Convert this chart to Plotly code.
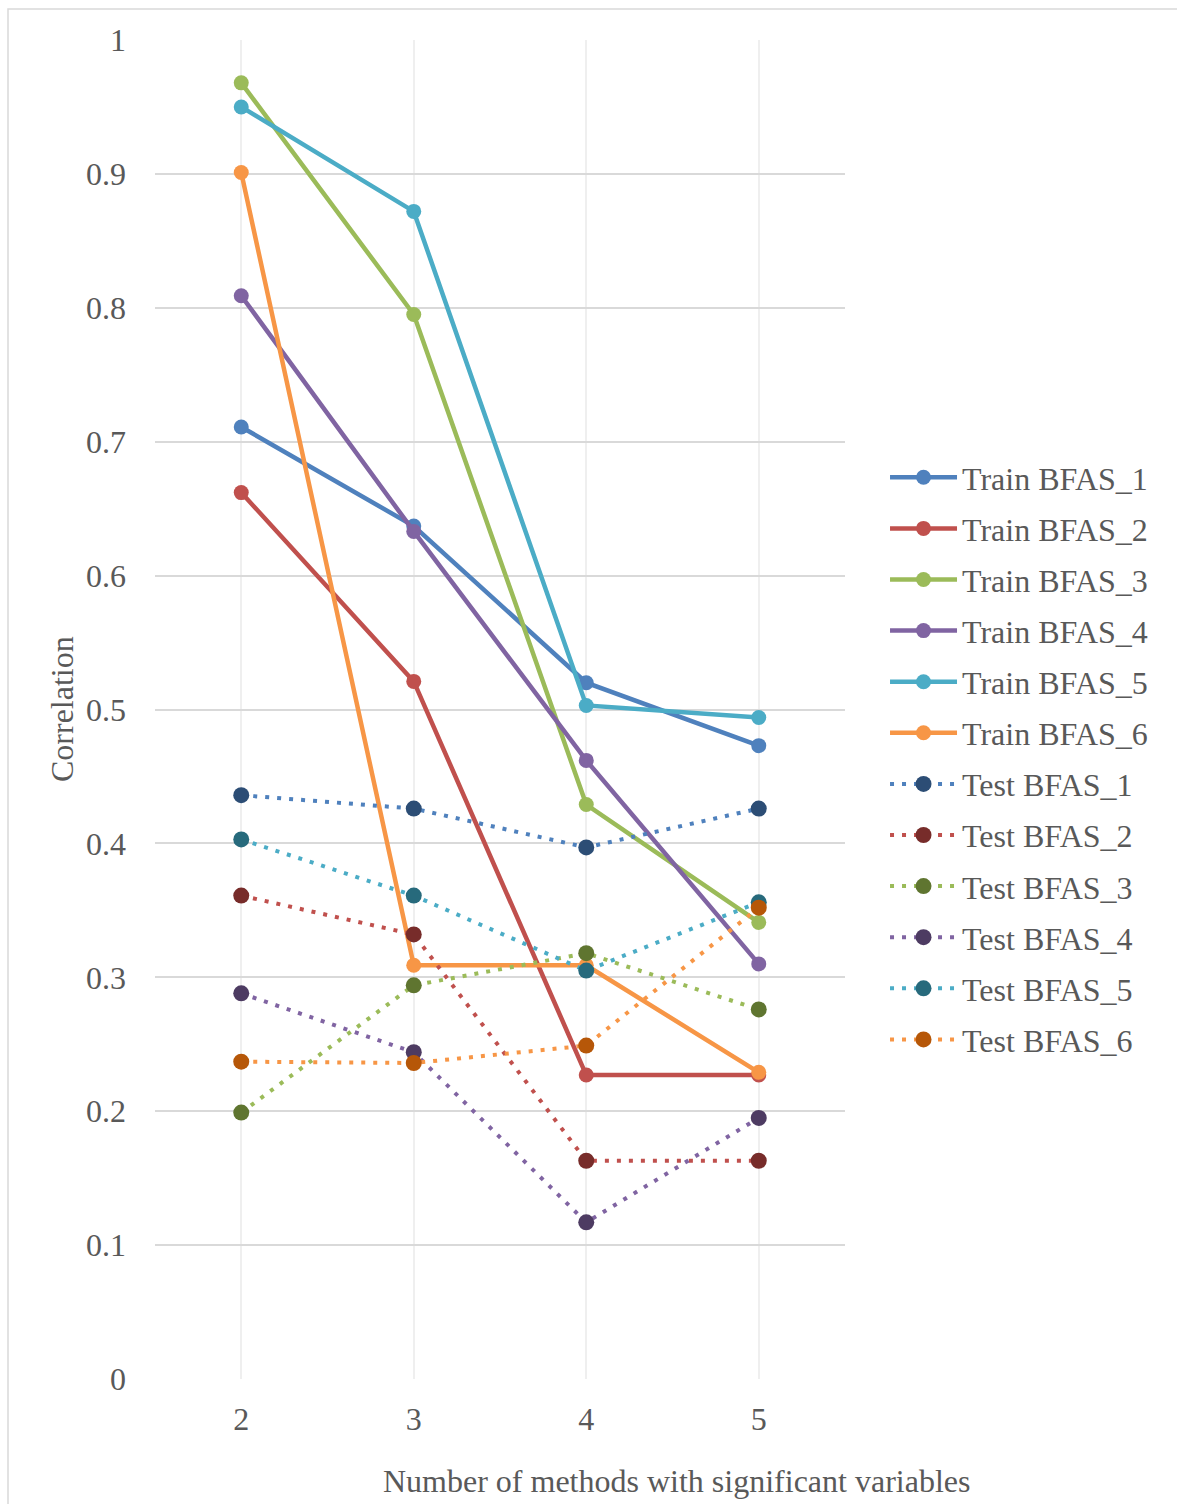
import plotly.graph_objects as go

methods = [2, 3, 4, 5]
series_names = ["Train BFAS_1", "Train BFAS_2", "Train BFAS_3", "Train BFAS_4", "Train BFAS_5", "Train BFAS_6",
                "Test BFAS_1", "Test BFAS_2", "Test BFAS_3", "Test BFAS_4", "Test BFAS_5", "Test BFAS_6"]

train_bfas_1 = [0.711, 0.637, 0.520, 0.473]
train_bfas_2 = [0.662, 0.521, 0.227, 0.227]
train_bfas_3 = [0.968, 0.795, 0.429, 0.341]
train_bfas_4 = [0.809, 0.633, 0.462, 0.310]
train_bfas_5 = [0.950, 0.872, 0.503, 0.494]
train_bfas_6 = [0.901, 0.309, 0.309, 0.229]
test_bfas_1 = [0.436, 0.426, 0.397, 0.426]
test_bfas_2 = [0.361, 0.332, 0.163, 0.163]
test_bfas_3 = [0.199, 0.294, 0.318, 0.276]
test_bfas_4 = [0.288, 0.244, 0.117, 0.195]
test_bfas_5 = [0.403, 0.361, 0.305, 0.356]
test_bfas_6 = [0.237, 0.236, 0.249, 0.352]

y_ticks = [0, 0.1, 0.2, 0.3, 0.4, 0.5, 0.6, 0.7, 0.8, 0.9, 1]
y_tick_labels = ["0", "0.1", "0.2", "0.3", "0.4", "0.5", "0.6", "0.7", "0.8", "0.9", "1"]

line_colors = ["#4F81BD", "#C0504D", "#9BBB59", "#8064A2", "#4BACC6", "#F79646"]
dark_colors = ["#2C4D75", "#772C2A", "#5F7530", "#4D3B62", "#276A7C", "#B65708"]

train = [train_bfas_1, train_bfas_2, train_bfas_3, train_bfas_4, train_bfas_5, train_bfas_6]
test = [test_bfas_1, test_bfas_2, test_bfas_3, test_bfas_4, test_bfas_5, test_bfas_6]

FONT = "Liberation Serif"
TXT = "#595959"
FS = 32

fig = go.Figure()
for i, vals in enumerate(train):
    fig.add_trace(go.Scatter(
        x=methods, y=vals, name=series_names[i], mode="lines+markers",
        line=dict(color=line_colors[i], width=4.5),
        marker=dict(color=line_colors[i], size=15),
        legendgroup=f"g{i}",
    ))
for i, vals in enumerate(test):
    fig.add_trace(go.Scatter(
        x=methods, y=vals, name=series_names[6 + i], mode="lines+markers",
        line=dict(color=line_colors[i], width=4, dash="4px,8px"),
        marker=dict(color=dark_colors[i], size=16),
        legendgroup=f"h{i}",
    ))

plot_w = 1177 - 155 - 332
plot_h = 1504 - 40 - 125

fig.update_layout(
    width=1177, height=1504,
    margin=dict(l=155, r=332, t=40, b=125),
    paper_bgcolor="white", plot_bgcolor="white",
    font=dict(family=FONT, color=TXT, size=FS),
    showlegend=True,
    legend=dict(x=1.058, xanchor="left", y=(1379 - 450) / plot_h, yanchor="top",
                font=dict(family=FONT, size=FS, color=TXT),
                tracegroupgap=6.5, itemwidth=67, bgcolor="rgba(0,0,0,0)"),
    xaxis=dict(range=[1.5, 5.5], tickvals=methods, ticktext=[str(m) for m in methods],
               showgrid=True, gridcolor="#EFEFEF", gridwidth=1.5, zeroline=False,
               showline=False, ticks="", ticklabelstandoff=18,
               tickfont=dict(size=FS, color=TXT, family=FONT)),
    yaxis=dict(range=[0, 1], tickvals=y_ticks, ticktext=y_tick_labels,
               showgrid=True, gridcolor="#D9D9D9", gridwidth=1.5, zeroline=False,
               showline=False, ticks="", ticklabelstandoff=28,
               tickfont=dict(size=FS, color=TXT, family=FONT)),
    annotations=[
        dict(text="Correlation", textangle=-90, xref="paper", yref="paper",
             x=(62 - 155) / plot_w, xanchor="center", y=(1379 - 709) / plot_h, yanchor="middle",
             showarrow=False, font=dict(size=FS, color=TXT, family=FONT)),
        dict(text="Number of methods with significant variables", xref="paper", yref="paper",
             x=(676 - 155) / plot_w, xanchor="center", y=(1379 - 1481) / plot_h, yanchor="middle",
             showarrow=False, font=dict(size=FS, color=TXT, family=FONT)),
    ],
)

fig.add_shape(type="rect", xref="paper", yref="paper",
              x0=(8 - 155) / plot_w, x1=(1200 - 155) / plot_w,
              y0=(1379 - 1530) / plot_h, y1=(1379 - 9) / plot_h,
              line=dict(color="#D9D9D9", width=1.5), fillcolor="rgba(0,0,0,0)", layer="below")

fig.write_html("out.html")
